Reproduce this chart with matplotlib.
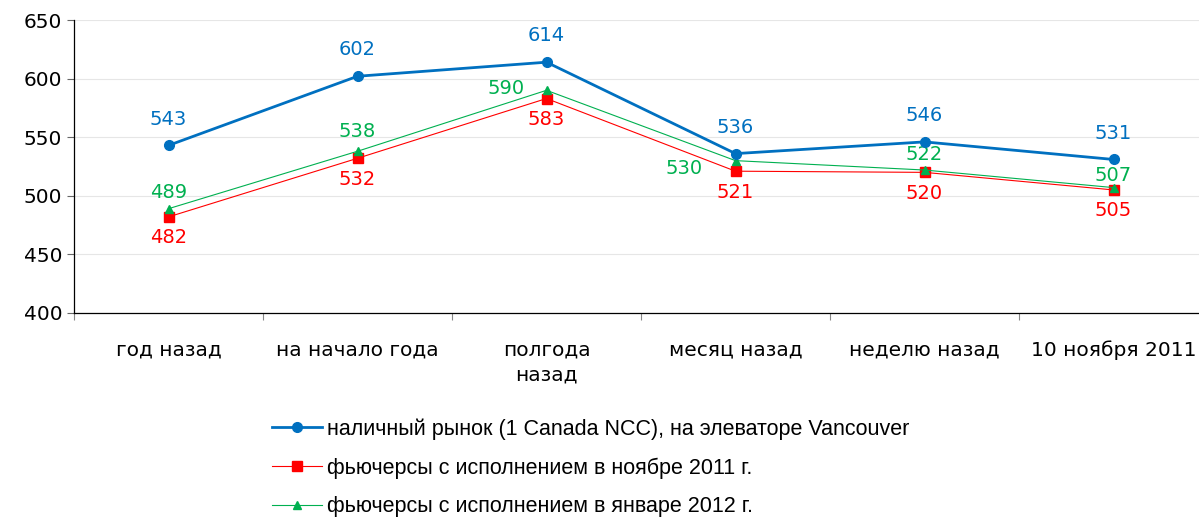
import matplotlib
matplotlib.use("Agg")
import matplotlib.pyplot as plt
import numpy as np

categories = ["год назад", "на начало года", "полгода\nназад", "месяц назад", "неделю назад", "10 ноября 2011"]
cash = [543, 602, 614, 536, 546, 531]
fut_nov = [482, 532, 583, 521, 520, 505]
fut_jan = [489, 538, 590, 530, 522, 507]

names = ["наличный рынок (1 Canada NCC), на элеваторе Vancouver",
         "фьючерсы с исполнением в ноябре 2011 г.",
         "фьючерсы с исполнением в январе 2012 г."]

blue = "#0070C0"
red = "#FF0000"
green = "#00B050"

plt.rcParams['font.family'] = ['DejaVu Sans']

W, H = 1199, 517
fig = plt.figure(figsize=(W / 100, H / 100), dpi=100)
ax = fig.add_axes([74 / W, 1 - 313 / H, 1134 / W, 293 / H])

x = np.arange(len(categories))
l1, = ax.plot(x, cash, color=blue, lw=2, marker="o", ms=7, zorder=5)
l2, = ax.plot(x, fut_nov, color=red, lw=0.8, marker="s", ms=6.5, zorder=3)
l3, = ax.plot(x, fut_jan, color=green, lw=0.8, marker="^", ms=6, zorder=4)

# подписи значений
for i, v in enumerate(cash):
    ax.annotate(str(v), (i, v), xytext=(0, 19), textcoords="offset points",
                ha="center", va="center", color=blue, fontsize=14)
for i, v in enumerate(fut_nov):
    ax.annotate(str(v), (i, v), xytext=(0, -15), textcoords="offset points",
                ha="center", va="center", color=red, fontsize=14)
green_off = [(0, 12), (0, 14), (-29, 1), (-37, -6), (0, 11), (0, 9)]
for i, v in enumerate(fut_jan):
    ax.annotate(str(v), (i, v), xytext=green_off[i], textcoords="offset points",
                ha="center", va="center", color=green, fontsize=14)

ax.set_xlim(-0.5, 5.5)
ax.set_ylim(400, 650)
ax.set_yticks(range(400, 651, 50))
ax.tick_params(axis="y", labelsize=14.5, length=5, width=0.8, color="#666666")
ax.yaxis.grid(True, color="#e6e6e6", lw=0.8)
ax.set_axisbelow(True)

ax.set_xticks(np.arange(-0.5, 6, 1))
ax.set_xticklabels([])
ax.tick_params(axis="x", which="major", length=5, width=0.8, color="#888888")
ax.set_xticks(x, minor=True)
ax.set_xticklabels(categories, minor=True, fontsize=14.5, linespacing=1.4)
ax.tick_params(axis="x", which="minor", length=0, pad=20)

for s in ["top", "right"]:
    ax.spines[s].set_visible(False)
ax.spines["left"].set_linewidth(0.9)
ax.spines["bottom"].set_linewidth(0.9)

fig.legend([l1, l2, l3], names, loc="upper left", bbox_to_anchor=(257 / W, 1 - 403 / H),
           frameon=False, handlelength=2.3, handletextpad=0.23, labelspacing=0.82,
           borderpad=0.2, prop={"family": ["Liberation Sans"], "size": 15.5})

fig.savefig("out.png", dpi=100)
